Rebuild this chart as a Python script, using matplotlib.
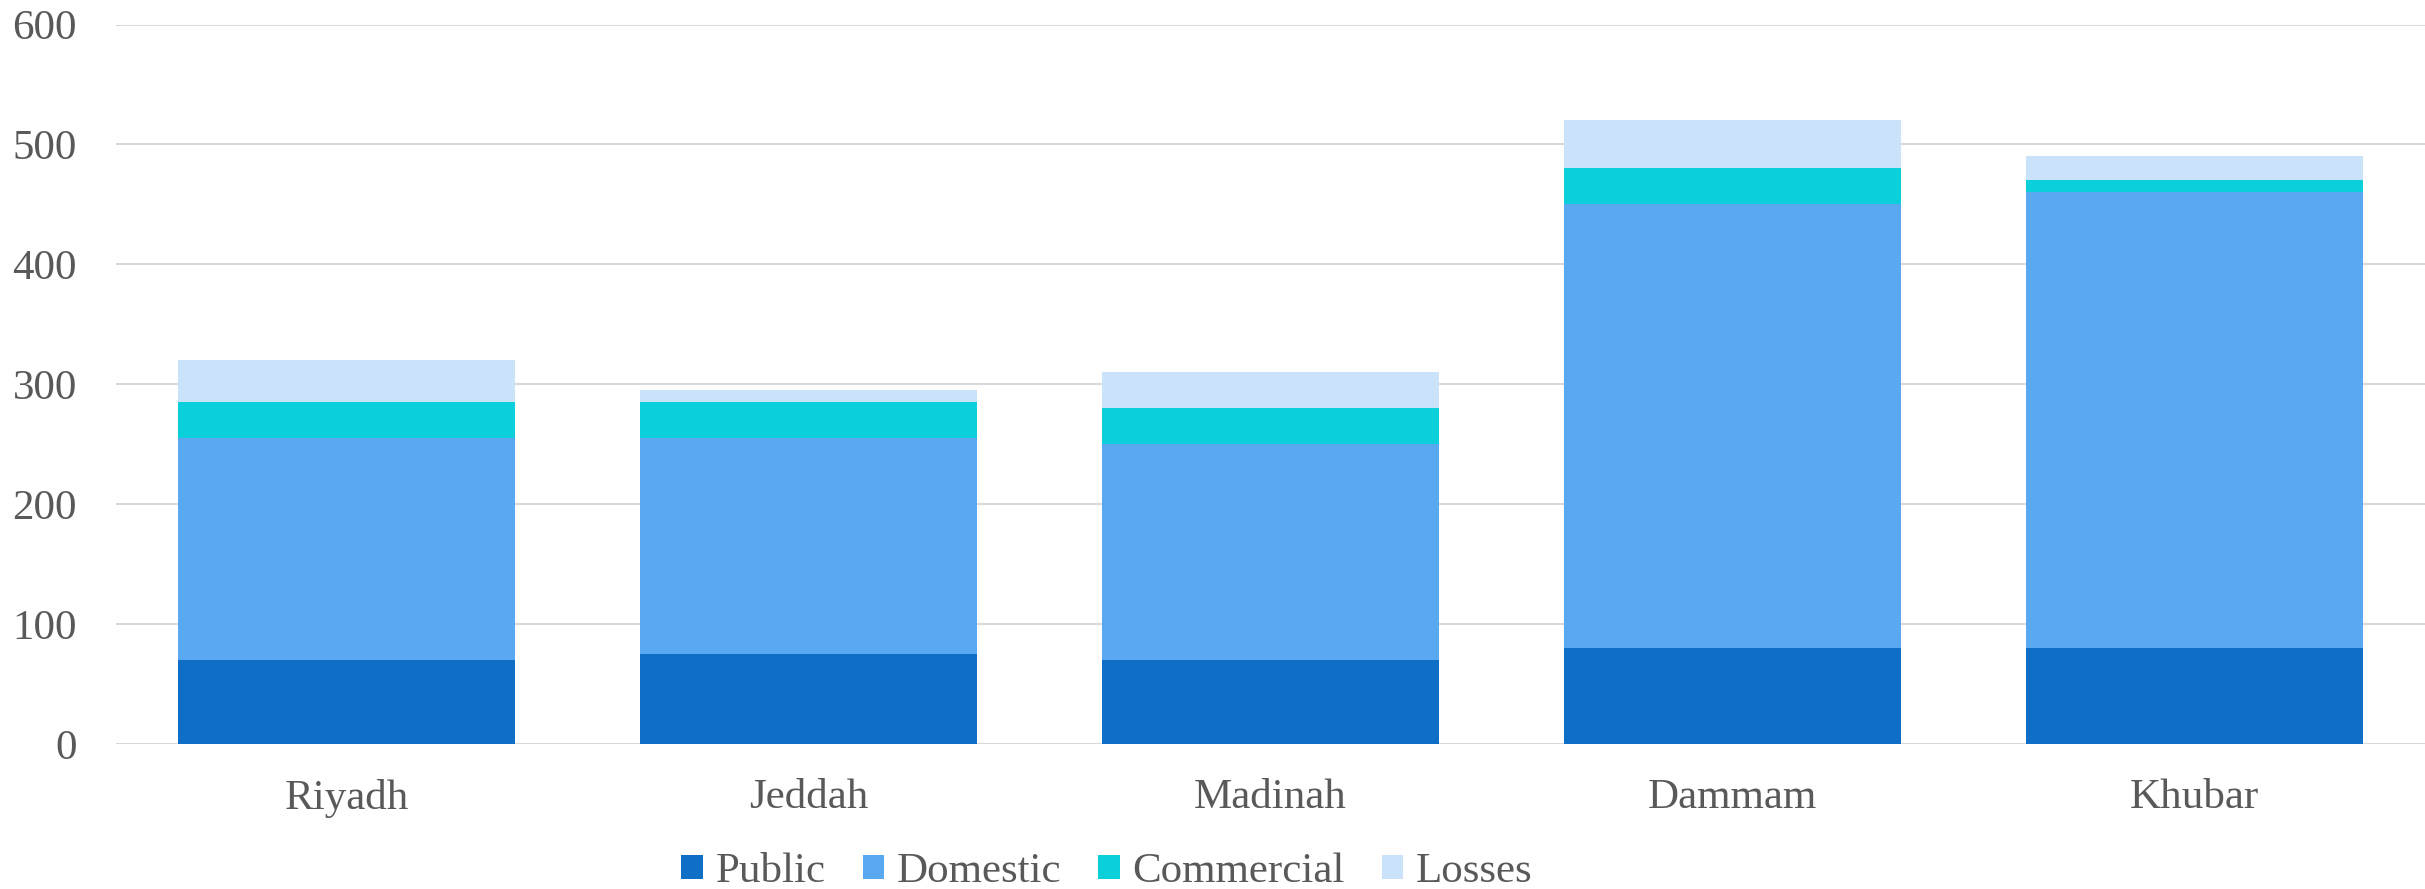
import matplotlib.pyplot as plt
import numpy as np

# data
cities = ["Riyadh", "Jeddah", "Madinah", "Dammam", "Khubar"]
public = [70, 75, 70, 80, 80]
domestic = [185, 180, 180, 370, 380]
commercial = [30, 30, 30, 30, 10]
losses = [35, 10, 30, 40, 20]

series_names = ["Public", "Domestic", "Commercial", "Losses"]
colors = ["#0F6FC6", "#5AA9F0", "#0BD0D9", "#CAE2FA"]

plt.rcParams['font.family'] = ['Liberation Serif', 'DejaVu Serif']
txt = "#595959"

fig = plt.figure(figsize=(24.25, 8.89), dpi=100)
ax = fig.add_axes([0.0478, 0.163, 0.9522, 0.8094])

x = np.arange(len(cities))
bottom = np.zeros(len(cities))
for name, vals, c in zip(series_names, [public, domestic, commercial, losses], colors):
    ax.bar(x, vals, width=0.73, bottom=bottom, color=c, label=name, zorder=3)
    bottom += np.array(vals)

ax.set_xlim(-0.5, 4.5)
ax.set_ylim(0, 600)
ax.set_yticks(range(0, 601, 100))
ax.grid(axis="y", color="#D9D9D9", linewidth=1.5, zorder=0)

for s in ax.spines.values():
    s.set_visible(False)

ax.set_xticks(x)
ax.set_xticklabels(cities)
ax.tick_params(axis="both", length=0, labelsize=31, labelcolor=txt)
ax.tick_params(axis="y", pad=28)
ax.tick_params(axis="x", pad=25)

fig.legend(loc="center", bbox_to_anchor=(0.4565, 0.019), ncol=4, frameon=False,
           fontsize=31, labelcolor=txt, handlelength=0.5, handleheight=0.5,
           handletextpad=0.3, columnspacing=0.85)

plt.savefig("out.png", dpi=100)
